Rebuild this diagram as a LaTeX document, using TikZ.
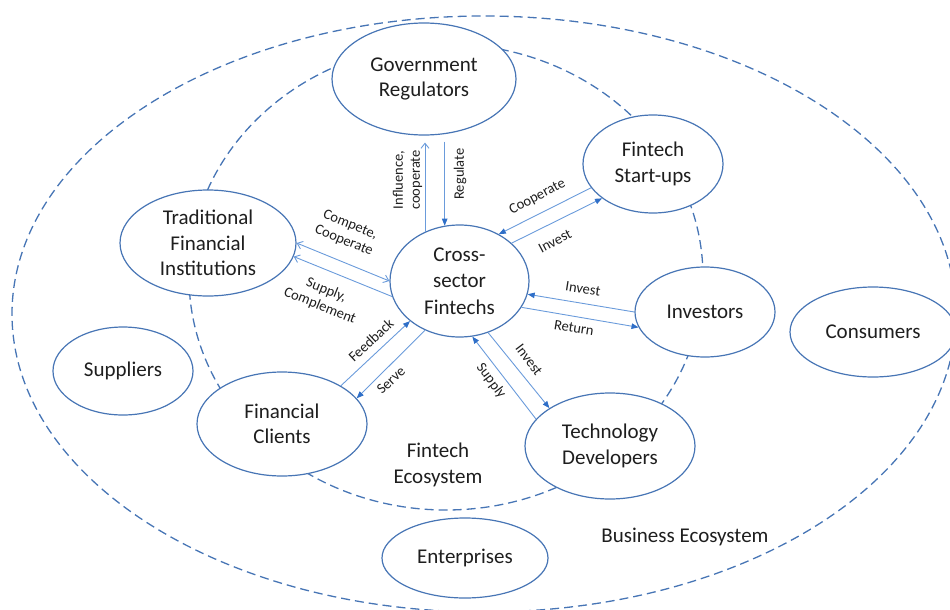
\documentclass[tikz,border=0pt]{standalone}
\usepackage{fontspec}
\setmainfont{Carlito}
\usetikzlibrary{shapes.geometric,arrows.meta}
\definecolor{rimblue}{HTML}{4775B5}
\definecolor{linkblue}{HTML}{6A9BDB}
\definecolor{tipblue}{HTML}{2F6FC8}
\definecolor{ink}{HTML}{1E1E1E}
\begin{document}
\begin{tikzpicture}[x=1pt,y=-1pt,
  actor/.style={ellipse, draw=rimblue, line width=1.2pt, fill=white, inner sep=0pt,
    align=center, text=ink, font=\fontsize{21}{25.5}\selectfont},
  zone/.style={draw=rimblue, line width=1.3pt, dash pattern=on 9pt off 5pt},
  link/.style={draw=linkblue, line width=0.9pt},
  fwd/.style={link, -{Triangle[length=7pt,width=5.5pt,color=tipblue]}},
  fwdopen/.style={link, -{Straight Barb[length=5pt,width=8pt]}},
  twoway/.style={link, {Straight Barb[length=5pt,width=8pt]}-{Straight Barb[length=5pt,width=8pt]}},
  lbl/.style={font=\fontsize{14.5}{17}\selectfont, text=ink, align=center, inner sep=0pt},
  zonetext/.style={font=\fontsize{21}{26}\selectfont, text=ink, align=center, inner sep=0pt}
]
\useasboundingbox (0,0) rectangle (950,610);

% ecosystem boundaries
\draw[zone] (484,314) ellipse [x radius=472pt, y radius=298pt];
\draw[zone] (446,277) ellipse [x radius=257pt, y radius=233pt];

% actors
\node[actor, minimum width=184pt, minimum height=112pt] (gov) at (424,79) {Government\\Regulators};
\node[actor, minimum width=140pt, minimum height=98pt]  (fs)  at (653,164) {Fintech\\Start-ups};
\node[actor, minimum width=176pt, minimum height=106pt] (tfi) at (208,243) {Traditional\\Financial\\Institutions};
\node[actor, minimum width=139pt, minimum height=112pt, font=\fontsize{21}{26.5}\selectfont] (cf) at (459.5,281) {Cross-\\sector\\Fintechs};
\node[actor, minimum width=140pt, minimum height=90pt]  (inv) at (705,312) {Investors};
\node[actor, minimum width=166pt, minimum height=90pt]  (cons) at (873,332) {Consumers};
\node[actor, minimum width=140pt, minimum height=88pt]  (sup) at (123,371) {Suppliers};
\node[actor, minimum width=170pt, minimum height=104pt] (fc)  at (282,424) {Financial\\Clients};
\node[actor, minimum width=170pt, minimum height=106pt] (td)  at (610,446) {Technology\\Developers};
\node[actor, minimum width=166pt, minimum height=80pt]  (ent) at (465,558) {Enterprises};

% ecosystem names
\node[zonetext] (fineco) at (438,465) {Fintech\\Ecosystem};
\node[zonetext] (buseco) at (685,537) {Business Ecosystem};

% relations
\draw[fwdopen, shorten >=7pt] (cf.125) -- (cf.125 |- gov.south);
\draw[fwd, shorten <=6pt] (cf.105 |- gov.south) -- (cf.105);
\draw[fwd] (fs.201.5) -- (cf.50);
\draw[fwd] (cf.36) -- (fs.214);
\draw[twoway] (tfi.0) -- (cf.180);
\draw[fwdopen] (cf.193) -- (tfi.-9);
\draw[fwd] (inv.180) -- (cf.-11.5);
\draw[fwd] (cf.-23) -- (inv.193);
\draw[fwd] (fc.33) -- (cf.219.5);
\draw[fwd] (cf.235) -- (fc.19);
\draw[fwd] (td.160) -- (cf.-77);
\draw[fwd] (cf.-61) -- (td.148);

% relation labels
\node[lbl, rotate=90] (tInf) at (407.5,180) {Influence,\\cooperate};
\node[lbl, rotate=90] (tReg) at (460,174) {Regulate};
\node[lbl, rotate=28] (tCoop) at (537.5,197) {Cooperate};
\node[lbl, rotate=28] (tInvFs) at (555,241) {Invest};
\node[lbl, rotate=-22] (tComp) at (347,233) {Compete,\\Cooperate};
\node[lbl, rotate=-22] (tSupC) at (323,298) {Supply,\\Complement};
\node[lbl, rotate=-9] (tInvI) at (583,289) {Invest};
\node[lbl, rotate=-9] (tRet) at (574,328) {Return};
\node[lbl, rotate=43] (tFeed) at (371,340) {Feedback};
\node[lbl, rotate=43] (tServe) at (391,380) {Serve};
\node[lbl, rotate=-53] (tSupT) at (491,381) {Supply};
\node[lbl, rotate=-53] (tInvT) at (529,360) {Invest};
\end{tikzpicture}
\end{document}
